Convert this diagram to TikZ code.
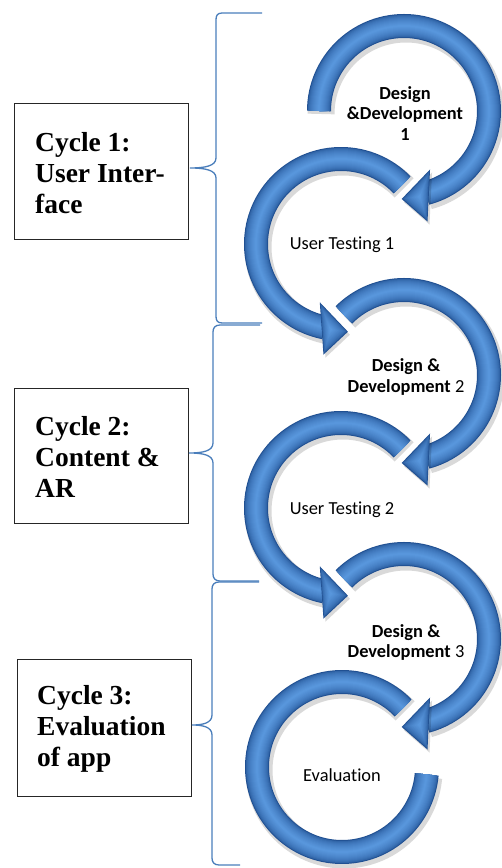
\documentclass[tikz,border=0pt]{standalone}
\usepackage{fontspec}
\setmainfont{Liberation Serif}
\newfontfamily\carlito[Ligatures=NoCommon]{Carlito}
\usetikzlibrary{calc}
\definecolor{bracecol}{RGB}{74,126,187}
\definecolor{bk1}{RGB}{32,80,146}
\definecolor{bk5}{RGB}{88,150,220}
\newcommand\ringband[2]{%
  \draw[line width=27pt, black, opacity=.15] ([shift={(2pt,-3pt)}]#1:85pt) arc[start angle=#1, end angle=#2, radius=85pt];
  \foreach \i in {0,...,11}{%
    \pgfmathsetmacro\w{24-2*\i}%
    \pgfmathsetmacro\p{100*sqrt(\i/11)}%
    \draw[line width=\w pt, bk5!\p!bk1] (#1:85pt) arc[start angle=#1, end angle=#2, radius=85pt];}%
}
\newcommand\arrowtri[3]{%
  \coordinate (pa) at (#1);
  \coordinate (pb) at (#2);
  \coordinate (pt) at (#3);
  \coordinate (pc) at (barycentric cs:pa=1,pb=1,pt=1);
  \fill[black, opacity=.15] ([shift={(2pt,-3pt)}]pa) -- ([shift={(2pt,-3pt)}]pb) -- ([shift={(2pt,-3pt)}]pt) -- cycle;
  \foreach \i in {0,...,11}{%
    \pgfmathsetmacro\f{1-0.08*\i}%
    \pgfmathsetmacro\p{100*sqrt(\i/11)}%
    \fill[bk5!\p!bk1] ($(pc)!\f!(pa)$) -- ($(pc)!\f!(pb)$) -- ($(pc)!\f!(pt)$) -- cycle;}%
}
\begin{document}
\begin{tikzpicture}[x=1pt,y=1pt,
  cyclebox/.style={draw=black!85, line width=0.9pt, minimum width=174pt, minimum height=136pt, inner sep=0pt, fill=white},
  cycletext/.style={font=\fontsize{27.5}{31}\selectfont\bfseries, align=left, inner sep=0pt, anchor=west},
  ringtext/.style={font=\carlito\fontsize{18.4}{20.5}\selectfont, align=center, inner sep=0pt},
  bracepath/.style={draw=bracecol, line width=1.3pt}]
\useasboundingbox (0,0) rectangle (501,868);

% ring centres
\coordinate (dd1) at (404,757);
\coordinate (ut1) at (341,624);
\coordinate (dd2) at (404,493);
\coordinate (ut2) at (341,360);
\coordinate (dd3) at (404,229);
\coordinate (ev)  at (342,101);

% design & development rings (clockwise)
\begin{scope}[shift={(dd1)}]
  \ringband{180}{-75}
  \arrowtri{-66:64pt}{-78:113pt}{-91.5:88pt}
\end{scope}
\begin{scope}[shift={(dd2)}]
  \ringband{135}{-75}
  \arrowtri{-66:64pt}{-78:113pt}{-91.5:88pt}
\end{scope}
\begin{scope}[shift={(dd3)}]
  \ringband{135}{-75}
  \arrowtri{-66:64pt}{-78:113pt}{-91.5:88pt}
\end{scope}
% user testing rings (counter-clockwise)
\begin{scope}[shift={(ut1)}]
  \ringband{44}{259}
  \arrowtri{250:62pt}{261:112pt}{274.5:88pt}
\end{scope}
\begin{scope}[shift={(ut2)}]
  \ringband{44}{259}
  \arrowtri{250:62pt}{261:112pt}{274.5:88pt}
\end{scope}
\begin{scope}[shift={(ev)}]
  \ringband{44}{355}
\end{scope}

% ring labels
\node[ringtext, font=\carlito\fontsize{18.4}{20.5}\selectfont\bfseries] (lab1) at (405,754.7) {Design\\\&Development\\1};
\node[ringtext] (lab2) at (342,623) {User Testing 1};
\node[ringtext] (lab3) at (406,491) {{\bfseries Design \&}\\{\bfseries Development} 2};
\node[ringtext] (lab4) at (342,358) {User Testing 2};
\node[ringtext] (lab5) at (406,225.5) {{\bfseries Design \&}\\{\bfseries Development} 3};
\node[ringtext] (lab6) at (342,93) {Evaluation};

% cycle boxes
\node[cyclebox] (box1) at (101,697) {};
\node[cycletext] (txt1) at (35,695) {Cycle 1:\\User Inter-\\face};
\node[cyclebox, minimum height=135pt] (box2) at (101,412.5) {};
\node[cycletext] (txt2) at (35,411) {Cycle 2:\\Content \&\\AR};
\node[cyclebox, minimum height=137pt] (box3) at (104,140.5) {};
\node[cycletext] (txt3) at (37,139) {Cycle 3:\\Evaluation\\of app};

% braces
\coordinate (tip1) at (190,700);
\coordinate (tip2) at (189,415);
\coordinate (tip3) at (192,143);
\draw[bracepath] (262,855) -- (222,855) .. controls (217,855) and (216,852) .. (216,848) -- (216,710)
  .. controls (216,702) and (205,700) .. (tip1) .. controls (205,700) and (216,698) .. (216,690)
  -- (216,552) .. controls (216,548) and (217,545) .. (222,545) -- (262,545);
\draw[bracepath] (260,543) -- (220,543) .. controls (215,543) and (213,540) .. (213,536) -- (213,425)
  .. controls (213,417) and (203,415) .. (tip2) .. controls (203,415) and (213,413) .. (213,405)
  -- (213,294) .. controls (213,290) and (215,287) .. (220,287) -- (259,287);
\draw[bracepath] (259,286) -- (219,286) .. controls (214,286) and (212,283) .. (212,279) -- (212,153)
  .. controls (212,145) and (203,143) .. (tip3) .. controls (203,143) and (212,141) .. (212,133)
  -- (212,10) .. controls (212,6) and (214,3) .. (219,3) -- (240,3);
\end{tikzpicture}
\end{document}
